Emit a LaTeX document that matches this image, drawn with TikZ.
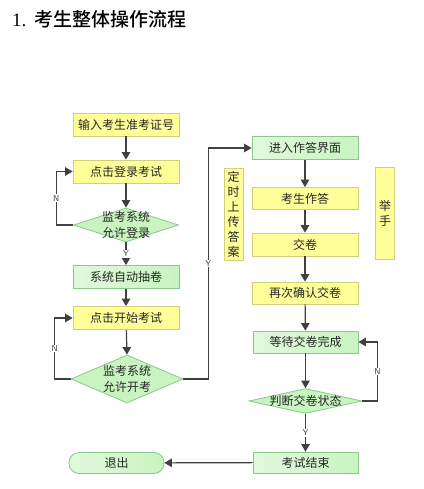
\documentclass[tikz,border=0pt]{standalone}
\usepackage{fontspec}
\newfontfamily\cjk{Noto Sans CJK SC}
\newfontfamily\cjkb{Noto Sans CJK SC Medium}
\newfontfamily\serifl{Liberation Serif}
\usetikzlibrary{shapes.geometric,arrows.meta,positioning}
\definecolor{yfill}{HTML}{FFFF99}
\definecolor{ydraw}{HTML}{D2CE7C}
\definecolor{gfill}{HTML}{C8F4C0}
\definecolor{gdraw}{HTML}{8CC68C}
\definecolor{arrc}{HTML}{404040}
\tikzset{
  ybox/.style={draw=ydraw,fill=yfill,line width=0.8pt,minimum width=106pt,minimum height=23pt,inner sep=0pt,font=\cjk\fontsize{12}{14}\selectfont,text=black!85},
  gbox/.style={draw=gdraw,left color=gfill!55!white,right color=gfill,line width=0.8pt,minimum width=106pt,minimum height=23pt,inner sep=0pt,font=\cjk\fontsize{12}{14}\selectfont,text=black!85},
  dia/.style={diamond,draw=gdraw,fill=gfill,line width=0.8pt,inner sep=0pt},
  vbox/.style={draw=ydraw,fill=yfill,line width=0.8pt,minimum width=19pt,inner sep=0pt,font=\cjk\fontsize{12}{15}\selectfont,align=center,text=black!85},
  dtext/.style={font=\cjk\fontsize{12}{16}\selectfont,align=center,text=black!85},
  arr/.style={draw=arrc,line width=1.2pt,-{Triangle[length=7.5pt,width=8.5pt]}},
  lab/.style={fill=white,inner sep=1pt,font=\fontsize{8.5}{9}\selectfont\sffamily,text=arrc},
}
\begin{document}
\begin{tikzpicture}[x=1pt,y=-1pt]
\useasboundingbox (0,0) rectangle (423,489);
\node[anchor=west,inner sep=0pt] (title) at (12,19) {\fontsize{19}{21}\selectfont{\serifl 1.} {\cjkb 考生整体操作流程}};
% left column
\node[ybox] (input) at (126,124.5) {输入考生准考证号};
\node[ybox] (login) at (126,171.5) {点击登录考试};
\node[dia,minimum width=105pt,minimum height=34pt] (d1) at (126,225) {};
\node[dtext] (d1t) at (126,225) {监考系统\\允许登录};
\node[gbox] (auto) at (126,277) {系统自动抽卷};
\node[ybox] (start) at (126,318) {点击开始考试};
\node[dia,minimum width=112pt,minimum height=48pt] (d2) at (127,379) {};
\node[dtext] (d2t) at (127,379) {监考系统\\允许开考};
\node[gbox,rounded corners=10pt,minimum width=95pt,minimum height=21pt] (exit) at (116.5,463) {退出};
% right column
\node[gbox] (enter) at (305,148) {进入作答界面};
\node[ybox,minimum height=22pt] (answer) at (305,198.5) {考生作答};
\node[ybox] (submit) at (305,244.5) {交卷};
\node[ybox,minimum height=22pt] (confirm) at (305,293) {再次确认交卷};
\node[gbox,minimum width=105pt,minimum height=22pt] (wait) at (305.5,342) {等待交卷完成};
\node[dia,minimum width=113pt,minimum height=25pt] (d3) at (305.5,401) {};
\node[dtext] (d3t) at (305.5,401) {判断交卷状态};
\node[gbox,minimum width=105pt,minimum height=21pt] (end) at (305.5,462.5) {考试结束};
\node[vbox,minimum height=92pt] (upload) at (233.5,214) {定\\时\\上\\传\\答\\案};
\node[vbox,minimum height=92pt] (hand) at (385,213) {举\\手};
% connectors
\draw[arr] (input) -- (login);
\draw[arr] (login) -- (d1.north);
\draw[arr] (d1.west) -- ++(-17,0) |- node[lab,pos=0.25]{N} (login.west);
\draw[arr] (d1.south) -- node[lab]{Y} (auto.north);
\draw[arr] (auto) -- (start);
\draw[arr] (start) -- (d2.north);
\draw[arr] (d2.west) -- ++(-16,0) |- node[lab,pos=0.25]{N} (start.west);
\draw[arr] (d2.east) -- ++(25,0) |- node[lab,pos=0.25]{Y} (enter.west);
\draw[arr] (enter) -- (answer);
\draw[arr] (answer) -- (submit);
\draw[arr] (submit) -- (confirm);
\draw[arr] (confirm) -- (wait);
\draw[arr] (wait) -- (d3.north);
\draw[arr] (d3.east) -- ++(15,0) |- node[lab,pos=0.25]{N} (wait.east);
\draw[arr] (d3.south) -- node[lab]{Y} (end.north);
\draw[arr] (end) -- (exit);
\end{tikzpicture}
\end{document}
